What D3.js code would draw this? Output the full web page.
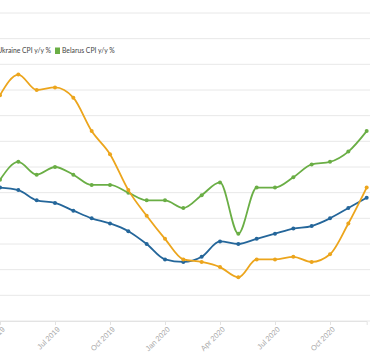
<!DOCTYPE html>
<html><head><meta charset="utf-8">
<script src="https://cdn.jsdelivr.net/npm/d3@7"></script>
<style>html,body{margin:0;padding:0;background:#fff;overflow:hidden}svg{display:block;font-family:Lato,"Open Sans",sans-serif}</style>
</head><body>
<svg id="c" width="370" height="355"></svg>
<script>
const months = ["Apr 2019","May 2019","Jun 2019","Jul 2019","Aug 2019","Sep 2019","Oct 2019","Nov 2019","Dec 2019","Jan 2020","Feb 2020","Mar 2020","Apr 2020","May 2020","Jun 2020","Jul 2020","Aug 2020","Sep 2020","Oct 2020","Nov 2020","Dec 2020"];
const tickLabels = ["Apr 2019","Jul 2019","Oct 2019","Jan 2020","Apr 2020","Jul 2020","Oct 2020"];
const russia  = [5.2,5.1,4.7,4.6,4.3,4.0,3.8,3.5,3.0,2.4,2.3,2.5,3.1,3.0,3.2,3.4,3.6,3.7,4.0,4.4,4.8];
const ukraine = [8.8,9.6,9.0,9.1,8.7,7.4,6.5,5.1,4.1,3.2,2.4,2.3,2.1,1.7,2.4,2.4,2.5,2.3,2.6,3.8,5.2];
const belarus = [5.5,6.2,5.7,6.0,5.7,5.3,5.3,5.0,4.7,4.7,4.4,4.9,5.4,3.4,5.2,5.2,5.6,6.1,6.2,6.6,7.4];
const seriesNames = ["Russia CPI y/y %","Ukraine CPI y/y %","Belarus CPI y/y %"];
const colors = ["#24669a","#eca51c","#6aae45"];
const yTicks = [0,1,2,3,4,5,6,7,8,9,10,11,12];

const svg = d3.select("#c");
const x = d3.scalePoint().domain(months).range([0, 366.67]);
const y = d3.scaleLinear().domain([0, 12]).range([321, 13]);

// grid
svg.append("g").selectAll("line").data(yTicks).join("line")
  .attr("x1", -10).attr("x2", 380)
  .attr("y1", d => y(d)).attr("y2", d => y(d))
  .attr("stroke", "#e8e8e8").attr("stroke-width", 1);

// x axis
const xa = svg.append("g").attr("transform", `translate(0,${y(0)})`)
  .call(d3.axisBottom(x).tickValues(tickLabels).tickSize(4).tickPadding(0));
xa.select(".domain").attr("stroke", "#e3e3e3");
xa.selectAll(".tick line").attr("stroke", "#e3e3e3");
xa.selectAll(".tick text")
  .attr("fill", "#a8a8a8").attr("font-size", 7.5)
  .attr("text-anchor", "end")
  .attr("transform", "translate(3,7) rotate(-45)")
  .attr("dy", "0.35em").attr("y", 0).attr("x", 0);

const line = d3.line().x((d, i) => x(months[i])).y(d => y(d)).curve(d3.curveMonotoneX);
const all = [russia, ukraine, belarus];
[0, 2, 1].forEach(k => {
  const g = svg.append("g");
  g.append("path").datum(all[k]).attr("d", line)
    .attr("fill", "none").attr("stroke", colors[k]).attr("stroke-width", 1.8);
  g.selectAll("circle").data(all[k]).join("circle")
    .attr("cx", (d, i) => x(months[i])).attr("cy", d => y(d)).attr("r", 2)
    .attr("fill", colors[k]);
});

// legend, laid out right-to-left from the Belarus item
const leg = svg.append("g").attr("font-size", 6.8).attr("fill", "#444");
let right = 55;
for (let i = seriesNames.length - 1; i >= 0; i--) {
  const t = leg.append("text").attr("y", 53.2).text(seriesNames[i]).attr("fill", "#444");
  const w = t.node().getComputedTextLength();
  const sx = (i === 2) ? 55 : right - 4 - w - 7;
  t.attr("x", sx + 7);
  leg.append("rect").attr("x", sx).attr("y", 47.5).attr("width", 5).attr("height", 6.5).attr("fill", colors[i]);
  right = sx;
}
</script>
</body></html>
